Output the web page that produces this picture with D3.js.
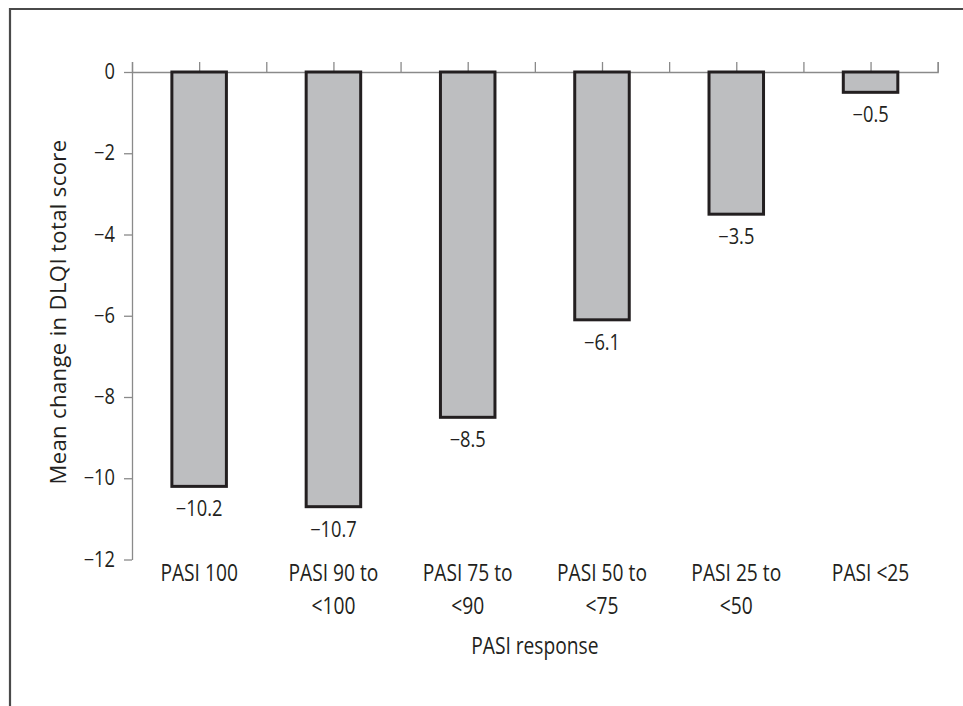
<!DOCTYPE html>
<html>
<head>
<meta charset="utf-8">
<script src="https://cdn.jsdelivr.net/npm/d3@7"></script>
<style>
  html, body { margin: 0; padding: 0; background: #fff; }
  svg { display: block; }
  text { font-family: "Open Sans", "Noto Sans", sans-serif; fill: #231f20; }
</style>
</head>
<body>
<svg id="chart" width="963" height="706"></svg>
<script>
const categories = ["PASI 100", "PASI 90 to\n<100", "PASI 75 to\n<90", "PASI 50 to\n<75", "PASI 25 to\n<50", "PASI <25"];
const values = [-10.2, -10.7, -8.5, -6.1, -3.5, -0.5];
const yTicks = [-12, -10, -8, -6, -4, -2, 0];
const yTitle = "Mean change in DLQI total score";
const xTitle = "PASI response";

(function () {
const svg = d3.select("#chart");
const mLeft = 132, mRight = 937.7, mTop = 72, mBottom = 559.5;
const numSX = 0.87, txtSX = 0.8;

// frame
svg.append("path")
  .attr("d", "M10,706V9H963")
  .attr("fill", "none")
  .attr("stroke", "#4a4a4a")
  .attr("stroke-width", 2.2);

const y = d3.scaleLinear().domain([-12, 0]).range([mBottom, mTop]);
const xi = d3.scaleLinear().domain([0, categories.length]).range([mLeft, mRight]);
const x = d3.scaleBand().domain(categories).range([mLeft, mRight]).paddingInner(0.594).paddingOuter(0.297);
const cx = c => x(c) + x.bandwidth() / 2;

// y axis
const yAxis = svg.append("g").attr("transform", `translate(${mLeft},0)`)
  .call(d3.axisLeft(y).tickValues(yTicks).tickSize(8).tickSizeOuter(0).tickFormat(d3.format("d")));
yAxis.selectAll("path,line").attr("stroke", "#8a8a8a").attr("stroke-width", 1.3);
yAxis.selectAll("text")
  .attr("x", null)
  .attr("transform", `translate(-17,0) scale(${numSX},1)`)
  .attr("text-anchor", "end")
  .attr("fill", "#231f20")
  .style("font-size", "21px")
  .style("font-family", "'Open Sans', 'Noto Sans', sans-serif");

// x axis (ticks at band centres and edges, pointing up)
const xAxis = svg.append("g").attr("transform", `translate(0,${y(0)})`)
  .call(d3.axisTop(xi).tickValues(d3.range(0, categories.length + 0.01, 0.5)).tickSize(10).tickSizeOuter(10).tickFormat(""));
xAxis.selectAll("path,line").attr("stroke", "#8a8a8a").attr("stroke-width", 1.3);

// bars
svg.append("g").selectAll("rect").data(values).join("rect")
  .attr("x", (d, i) => x(categories[i]))
  .attr("width", x.bandwidth())
  .attr("y", d => y(0))
  .attr("height", d => y(d) - y(0))
  .attr("fill", "#bdbec0")
  .attr("stroke", "#231f20")
  .attr("stroke-width", 3);

// value labels
svg.append("g").selectAll("text").data(values).join("text")
  .attr("transform", (d, i) => `translate(${cx(categories[i])},${y(d) + 30}) scale(${numSX},1)`)
  .attr("text-anchor", "middle")
  .style("font-size", "21px")
  .text(d => d3.format(".1f")(d));

// category labels
const cat = svg.append("g").selectAll("text").data(categories).join("text")
  .attr("text-anchor", "middle")
  .style("font-size", "24px")
  .attr("transform", d => `translate(${cx(d)},581) scale(${txtSX},1)`);
cat.selectAll("tspan").data(d => d.split("\n")).join("tspan")
  .attr("x", 0)
  .attr("dy", (s, i) => i === 0 ? 0 : 33)
  .text(s => s);

// axis titles
svg.append("text")
  .attr("text-anchor", "middle")
  .style("font-size", "24px")
  .attr("transform", `translate(${(mLeft + mRight) / 2},654) scale(${txtSX},1)`)
  .text(xTitle);

svg.append("text")
  .attr("text-anchor", "middle")
  .attr("transform", `translate(66,312) rotate(-90)`)
  .style("font-size", "22px")
  .style("letter-spacing", "0.4px")
  .text(yTitle);
})();
</script>
</body>
</html>
